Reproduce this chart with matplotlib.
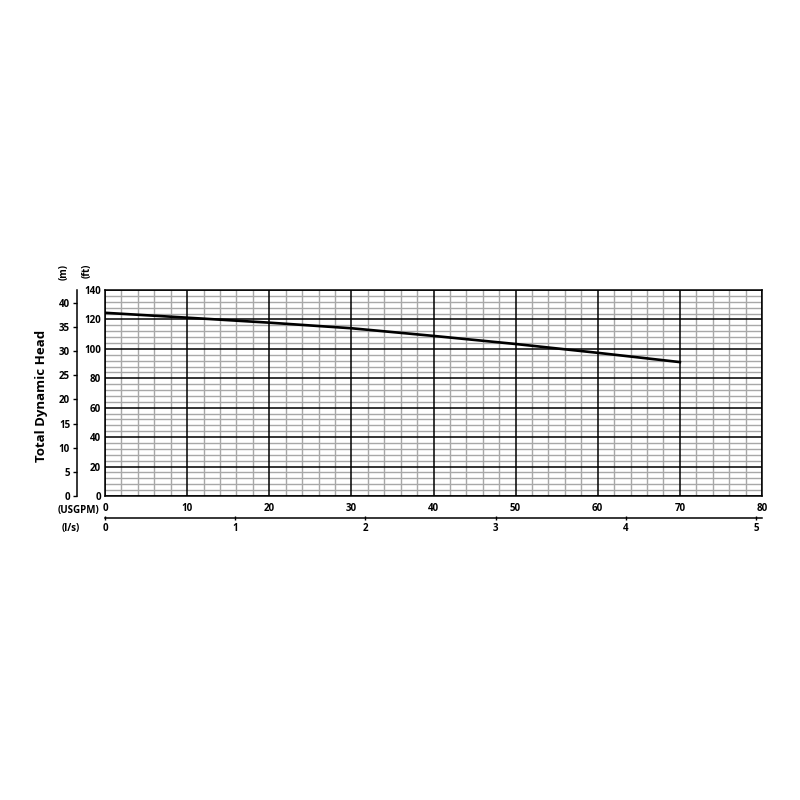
import matplotlib
matplotlib.use("Agg")
import matplotlib.pyplot as plt
import numpy as np

# pump curve
usgpm = [0, 10, 20, 30, 40, 50, 60, 70]
head_ft = [124.5, 121.2, 117.8, 114.0, 108.8, 103.3, 97.3, 91.0]

ft_ticks = [0, 20, 40, 60, 80, 100, 120, 140]
m_ticks = [0, 5, 10, 15, 20, 25, 30, 35, 40]
gpm_ticks = [0, 10, 20, 30, 40, 50, 60, 70, 80]
ls_ticks = [0, 1, 2, 3, 4, 5]

FT_PER_M = 3.28084
LS_PER_GPM = 0.0630902

plt.rcParams['font.family'] = ['Open Sans', 'DejaVu Sans']
plt.rcParams['font.weight'] = 'bold'
FS = 7

fig = plt.figure(figsize=(8, 8), dpi=100)
ax = fig.add_axes([105/800, 1 - 496/800, 657/800, 206/800])
ax.set_xlim(0, 80)
ax.set_ylim(0, 140)

# grid
for x in np.arange(0, 81, 2):
    if x % 10:
        ax.axvline(x, color='#a8a8a8', lw=1.0, zorder=1)
for y in np.arange(0, 141, 4):
    if y % 20:
        ax.axhline(y, color='#a8a8a8', lw=1.0, zorder=1)
for x in gpm_ticks:
    ax.axvline(x, color='black', lw=1.1, zorder=2)
for y in ft_ticks:
    ax.axhline(y, color='black', lw=1.1, zorder=2)

ax.plot(usgpm, head_ft, color='black', lw=1.9, zorder=3)

for s in ax.spines.values():
    s.set_color('black')
    s.set_linewidth(1.1)

ax.set_xticks(gpm_ticks)
ax.set_yticks(ft_ticks)
ax.tick_params(axis='both', length=0, labelsize=FS, pad=3)
ax.tick_params(axis='x', pad=5)
for lbl in ax.get_xticklabels() + ax.get_yticklabels():
    lbl.set_fontweight('bold')

# metres axis on the left
sec_y = ax.secondary_yaxis(-28/657, functions=(lambda f: f / FT_PER_M, lambda m: m * FT_PER_M))
sec_y.set_yticks(m_ticks)
sec_y.tick_params(length=3, width=1, labelsize=FS, pad=2)
sec_y.spines['left'].set_linewidth(1.1)
for lbl in sec_y.get_yticklabels():
    lbl.set_fontweight('bold')

# l/s axis underneath
sec_x = ax.secondary_xaxis(-22/206, functions=(lambda g: g * LS_PER_GPM, lambda l: l / LS_PER_GPM))
sec_x.set_xticks(ls_ticks)
sec_x.tick_params(length=3, width=1, direction='inout', labelsize=FS, pad=2)
sec_x.spines['bottom'].set_linewidth(1.1)
for lbl in sec_x.get_xticklabels():
    lbl.set_fontweight('bold')

fig.text(87/800, 1 - 271/800, '(ft)', rotation=90, ha='center', va='center', fontsize=FS, fontweight='bold')
fig.text(64/800, 1 - 272/800, '(m)', rotation=90, ha='center', va='center', fontsize=FS, fontweight='bold')
fig.text(42/800, 1 - 396/800, 'Total Dynamic Head', rotation=90, ha='center', va='center', fontsize=9.5, fontweight='bold')
fig.text(99/800, 1 - 510/800, '(USGPM)', ha='right', va='center', fontsize=FS, fontweight='bold')
fig.text(80/800, 1 - 529/800, '(l/s)', ha='right', va='center', fontsize=FS, fontweight='bold')

fig.savefig('out.png', dpi=100)
